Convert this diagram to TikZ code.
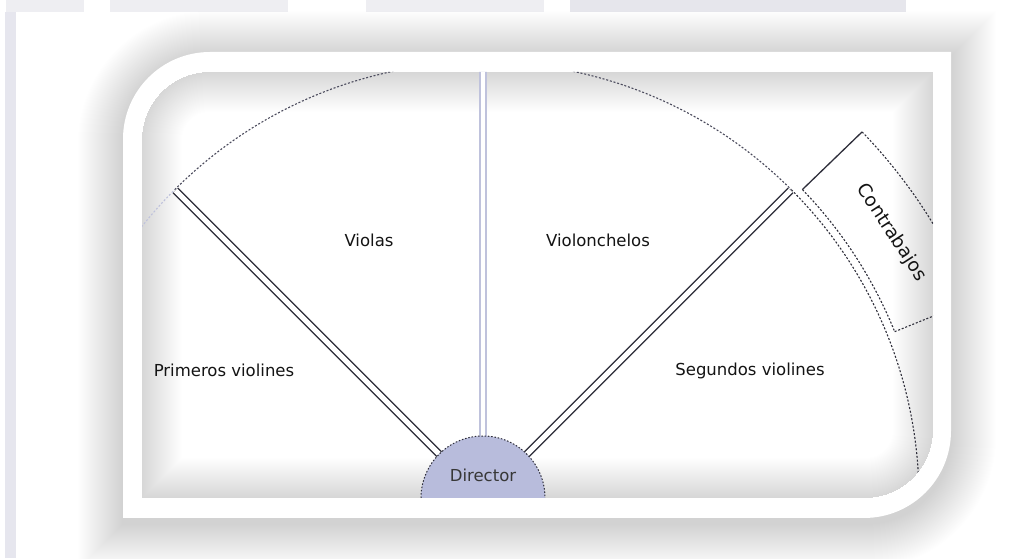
\documentclass[tikz,border=0pt]{standalone}
\usepackage{fontspec}
\setmainfont{DejaVu Sans}
\usetikzlibrary{calc}
\definecolor{bandgray}{HTML}{EEEEF2}
\definecolor{banddark}{HTML}{E6E6EC}
\definecolor{leftgray}{HTML}{E6E6EE}
\definecolor{linedark}{HTML}{2E2E3A}
\definecolor{linemid}{HTML}{4A4A5C}
\definecolor{lav}{HTML}{BFC2DC}
\definecolor{dirfill}{HTML}{B8BCDC}
\definecolor{txt}{HTML}{141414}
\newcommand\rfr[5]{({#1},{(#4)-(#5)}) arc[start angle=180,end angle=90,radius={#5}] -- ({#3},{#4}) -- ({#3},{(#2)+(#5)}) arc[start angle=0,end angle=-90,radius={#5}] -- ({#1},{#2}) -- cycle}
\tikzset{
  lbl/.style={text=txt,font=\fontsize{16.5}{18}\selectfont,inner sep=0pt,anchor=base},
  dbl/.style={draw=linedark,double=white,double distance=5pt,line width=1.4pt},
  dbllav/.style={draw=lav,double=white,double distance=4.5pt,line width=1.4pt},
  dashline/.style={draw=linedark,line width=1.1pt,dash pattern=on 2pt off 1.8pt},
  dashmid/.style={draw=linemid,line width=1.1pt,dash pattern=on 2pt off 1.8pt},
  dashlav/.style={draw=lav,line width=1.1pt,dash pattern=on 2pt off 1.8pt},
  solidline/.style={draw=linedark,line width=1.3pt}
}
\begin{document}
\begin{tikzpicture}[x=1pt,y=1pt]
\useasboundingbox (0,0) rectangle (1010,559);
\fill[white] (0,0) rectangle (1010,559);
% screenshot strips
\fill[bandgray] (6,547) rectangle (84,559);
\fill[bandgray] (110,547) rectangle (288,559);
\fill[bandgray] (366,547) rectangle (544,559);
\fill[banddark] (570,547) rectangle (906,559);
\fill[leftgray] (5,1) rectangle (16,547);
% drop shadow
\foreach \e in {1,...,45}{
  \fill[black,opacity=0.0035] \rfr{123-\e}{41-\e-6}{951+\e}{507+\e-4}{87+\e};
}
% white frame
\fill[white] \rfr{123}{41}{951}{507}{87};
% inner panel with vignette
\begin{scope}
\clip \rfr{142}{61}{933}{487}{68};
\fill[white] \rfr{142}{61}{933}{487}{68};
\foreach \w in {2,4,...,80}{
  \draw[black,opacity=0.0032,line width=\w pt] \rfr{142}{61}{933}{487}{68};
}
\coordinate (C) at (483,61);
% main arc
\draw[dashlav] ($(C)+(180:436)$) arc[start angle=180,end angle=135,radius=436];
\draw[dashmid] ($(C)+(135:436)$) arc[start angle=135,end angle=45,radius=436];
\draw[dashline] ($(C)+(45:436)$) arc[start angle=45,end angle=0,radius=436];
% radial coordinates
\coordinate (dl) at ($(C)+(135:62)$);
\coordinate (al) at ($(C)+(135:435)$);
\coordinate (dv) at ($(C)+(90:62)$);
\coordinate (av) at ($(C)+(90:450)$);
\coordinate (dr) at ($(C)+(45:62)$);
\coordinate (ar) at ($(C)+(45:435)$);
\draw[dbl] (dl) -- (al);
\draw[dbllav] (dv) -- (av);
\draw[dbl] (dr) -- (ar);
% contrabajos box
\coordinate (b1) at ($(C)+(44:444)$);
\coordinate (b2) at ($(C)+(44:527)$);
\coordinate (b3) at ($(C)+(22:444)$);
\coordinate (b4) at ($(C)+(22:527)$);
\draw[solidline] (b1) -- (b2);
\draw[dashline] (b2) arc[start angle=44,end angle=22,radius=527];
\draw[dashline] (b1) arc[start angle=44,end angle=22,radius=444];
\draw[dashline] (b3) -- (b4);
\node[text=txt,font=\fontsize{18.5}{20}\selectfont,rotate=-57,inner sep=0pt] (cb) at ($(C)+(33:487)$) {Contrabajos};
% director
\fill[dirfill] ($(C)+(-62,0)$) arc[start angle=180,end angle=0,radius=62] -- cycle;
\draw[dashline,line width=1pt,dash pattern=on 1.5pt off 1.8pt] ($(C)+(-62,0)$) arc[start angle=180,end angle=0,radius=62];
\end{scope}
\node[lbl,text=txt!85!white] (dir) at (483,77) {Director};
\node[lbl] (pv) at (224,182) {Primeros violines};
\node[lbl] (vl) at (369,312) {Violas};
\node[lbl] (vc) at (598,312) {Violonchelos};
\node[lbl] (sv) at (750,183) {Segundos violines};
\end{tikzpicture}
\end{document}
